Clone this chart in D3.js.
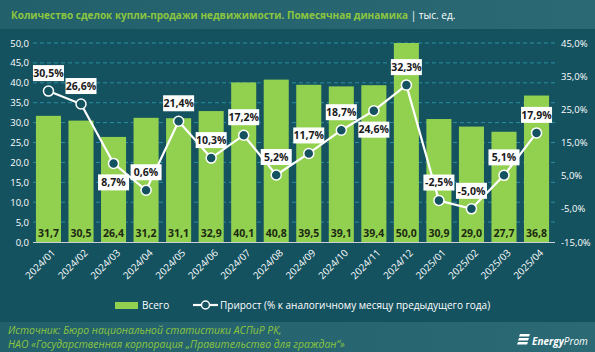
<!DOCTYPE html>
<html>
<head>
<meta charset="utf-8">
<script src="https://cdn.jsdelivr.net/npm/d3@7"></script>
<style>
    body { margin: 0; background: #14525f; }
    svg { display: block; font-family: "Open Sans", "DejaVu Sans", sans-serif; }
</style>
</head>
<body>
<svg width="595" height="352"></svg>
<script>
var months = ["2024/01", "2024/02", "2024/03", "2024/04", "2024/05", "2024/06", "2024/07", "2024/08",
    "2024/09", "2024/10", "2024/11", "2024/12", "2025/01", "2025/02", "2025/03", "2025/04"];
var totals = [31.7, 30.5, 26.4, 31.2, 31.1, 32.9, 40.1, 40.8, 39.5, 39.1, 39.4, 50.0, 30.9, 29.0, 27.7, 36.8];
var growth = [30.5, 26.6, 8.7, 0.6, 21.4, 10.3, 17.2, 5.2, 11.7, 18.7, 24.6, 32.3, -2.5, -5.0, 5.1, 17.9];
// label under the point for these months
var labelBelow = [false, false, true, false, false, false, false, false, false, false, true, false, false, false, false, false];
var leftTicks = [0, 5, 10, 15, 20, 25, 30, 35, 40, 45, 50];
var rightTicks = [-15, -5, 5, 15, 25, 35, 45];

var fmt = function (v) { return v.toFixed(1).replace(".", ","); };

var svg = d3.select("svg");
var defs = svg.append("defs");
var grad = defs.append("linearGradient").attr("id", "band").attr("x1", 0).attr("x2", 1);
grad.append("stop").attr("offset", "0%").attr("stop-color", "#22606b");
grad.append("stop").attr("offset", "100%").attr("stop-color", "#2b6a75");

svg.append("rect").attr("width", 595).attr("height", 352).attr("fill", "#14525f");
svg.append("rect").attr("width", 595).attr("height", 29).attr("fill", "url(#band)");
svg.append("rect").attr("y", 322).attr("width", 595).attr("height", 30).attr("fill", "url(#band)");

var title = svg.append("text").attr("x", 11).attr("y", 19)
    .attr("font-size", 10).attr("font-weight", "bold");
title.append("tspan").attr("fill", "#8cc63f")
    .text("Количество сделок купли-продажи недвижимости. Помесячная динамика");
title.append("tspan").attr("fill", "#ffffff").attr("font-weight", "normal").text(" | тыс. ед.");

var x = d3.scaleBand().domain(months).range([32.2, 552.8]).paddingInner(0.23).paddingOuter(0.115);
var y = d3.scaleLinear().domain([0, 50]).range([242, 43]);
var y2 = d3.scaleLinear().domain([-15, 45]).range([242, 43]);

// gridlines
svg.append("g").selectAll("line").data(leftTicks.slice(1)).join("line")
    .attr("x1", 33).attr("x2", 555)
    .attr("y1", function (d) { return y(d); }).attr("y2", function (d) { return y(d); })
    .attr("stroke", "#2b8ea3").attr("stroke-width", 1).attr("stroke-dasharray", "4,3");

// left axis
var leftAxis = svg.append("g").attr("transform", "translate(29,0)")
    .call(d3.axisLeft(y).tickValues(leftTicks).tickFormat(fmt).tickSize(0).tickPadding(0));
leftAxis.select(".domain").remove();
leftAxis.selectAll("text").attr("fill", "#ffffff").attr("font-size", 9.5)
    .attr("font-family", "Open Sans, sans-serif");

// right axis
var rightAxis = svg.append("g").attr("transform", "translate(561,0)")
    .call(d3.axisRight(y2).tickValues(rightTicks).tickFormat(function (d) { return fmt(d) + "%"; }).tickSize(0).tickPadding(0));
rightAxis.select(".domain").remove();
rightAxis.selectAll("text").attr("fill", "#ffffff").attr("font-size", 9.5)
    .attr("font-family", "Open Sans, sans-serif");

// bars
svg.append("g").selectAll("rect").data(totals).join("rect")
    .attr("x", function (d, i) { return x(months[i]); })
    .attr("y", function (d) { return y(d); })
    .attr("width", x.bandwidth())
    .attr("height", function (d) { return y(0) - y(d); })
    .attr("fill", "#92d050");

svg.append("g").selectAll("text").data(totals).join("text")
    .attr("x", function (d, i) { return x(months[i]) + x.bandwidth() / 2; })
    .attr("y", 237)
    .attr("text-anchor", "middle")
    .attr("font-size", 10.5).attr("font-weight", "bold").attr("fill", "#1b2a10")
    .text(fmt);

// baseline
svg.append("line").attr("x1", 33).attr("x2", 555).attr("y1", 242.5).attr("y2", 242.5)
    .attr("stroke", "#c8d0d2").attr("stroke-width", 1.2);

// x labels
svg.append("g").selectAll("text").data(months).join("text")
    .attr("transform", function (d) {
        return "translate(" + (x(d) + x.bandwidth() / 2 + 5) + ",251) rotate(-45)";
    })
    .attr("text-anchor", "end").attr("dy", "0.35em")
    .attr("font-size", 9.8).attr("fill", "#ffffff")
    .text(function (d) { return d; });

// growth line
var cx = function (i) { return x(months[i]) + x.bandwidth() / 2; };
var line = d3.line().x(function (d, i) { return cx(i); }).y(function (d) { return y2(d); });
svg.append("path").datum(growth).attr("d", line)
    .attr("fill", "none").attr("stroke", "#ffffff").attr("stroke-width", 2.2);
svg.append("g").selectAll("circle").data(growth).join("circle")
    .attr("cx", function (d, i) { return cx(i); })
    .attr("cy", function (d) { return y2(d); })
    .attr("r", 5).attr("fill", "#14525f").attr("stroke", "#ffffff").attr("stroke-width", 1.5);

var labels = svg.append("g").selectAll("g").data(growth).join("g")
    .attr("transform", function (d, i) {
        var dy = labelBelow[i] ? 19 : -18;
        return "translate(" + cx(i) + "," + (y2(d) + dy) + ")";
    });
labels.append("rect").attr("x", -15.5).attr("y", -8).attr("width", 31).attr("height", 16)
    .attr("fill", "#ffffff");
labels.append("text").attr("text-anchor", "middle").attr("dy", "0.35em")
    .attr("font-size", 10.5).attr("font-weight", "bold").attr("fill", "#1a1a1a")
    .text(function (d) { return fmt(d) + "%"; });

// legend
var legend = svg.append("g").attr("font-size", 10).attr("fill", "#ffffff");
legend.append("rect").attr("x", 115).attr("y", 302).attr("width", 23).attr("height", 7).attr("fill", "#92d050");
legend.append("text").attr("x", 142).attr("y", 305).attr("dy", "0.35em").text("Всего");
legend.append("line").attr("x1", 193).attr("x2", 218).attr("y1", 305).attr("y2", 305)
    .attr("stroke", "#ffffff").attr("stroke-width", 2.2);
legend.append("circle").attr("cx", 205.5).attr("cy", 305).attr("r", 4)
    .attr("fill", "#14525f").attr("stroke", "#ffffff").attr("stroke-width", 1.5);
legend.append("text").attr("x", 220).attr("y", 305).attr("dy", "0.35em")
    .text("Прирост (% к аналогичному месяцу предыдущего года)");

// source
var src = svg.append("g").attr("font-size", 10.4).attr("font-style", "italic").attr("fill", "#8cc63f");
src.append("text").attr("x", 8).attr("y", 334).text("Источник: Бюро национальной статистики АСПиР РК,");
src.append("text").attr("x", 8).attr("y", 348).text("НАО «Государственная корпорация „Правительство для граждан“»");

// logo
var logo = svg.append("g").attr("transform", "translate(517,334)");
[0, 4, 8].forEach(function (o, k) {
    logo.append("path")
        .attr("d", "M" + (3 - k) + "," + o + " L" + (13 - k) + "," + o + " L" + (12 - k) + "," + (o + 2.6) + " L" + (2 - k) + "," + (o + 2.6) + " Z")
        .attr("fill", "#ffffff");
});
logo.append("text").attr("x", 15).attr("y", 10.5).attr("font-size", 10).attr("font-style", "italic")
    .attr("fill", "#ffffff")
    .selectAll("tspan").data([["Energy", "bold"], ["Prom", "normal"]]).join("tspan")
    .attr("font-weight", function (d) { return d[1]; })
    .text(function (d) { return d[0]; });
</script>
</body>
</html>
